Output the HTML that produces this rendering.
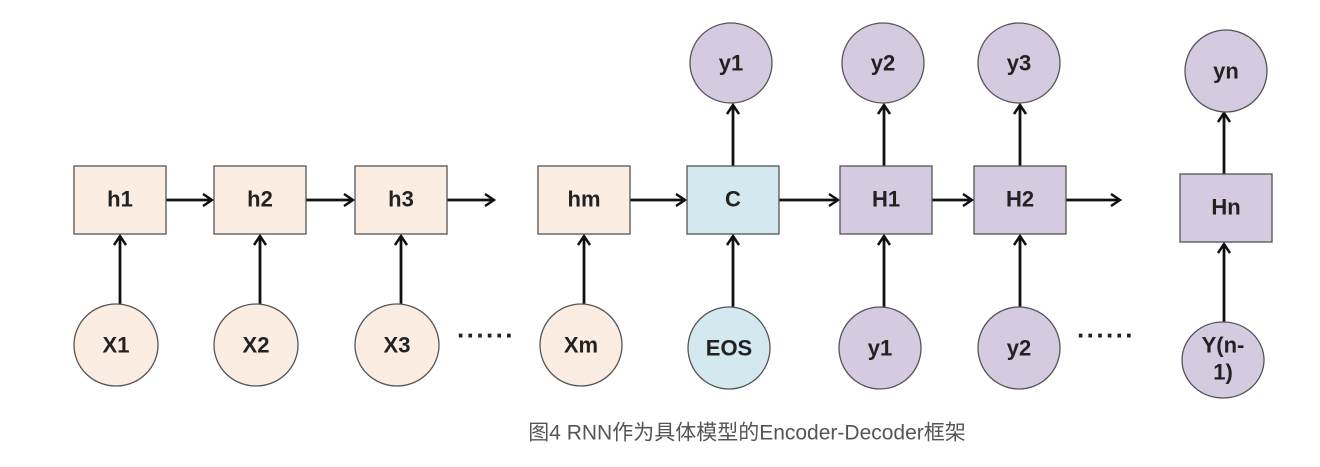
<!DOCTYPE html>
<html><head><meta charset="utf-8"><style>
html,body{margin:0;padding:0;background:#fff;}
svg{display:block;}
text{font-family:"Liberation Sans","DejaVu Sans",sans-serif;font-weight:bold;font-size:22px;fill:#222;text-anchor:middle;dominant-baseline:central;}
</style></head><body>
<svg width="1320" height="467" viewBox="0 0 1320 467" xmlns="http://www.w3.org/2000/svg">
<defs>
<marker id="a" markerWidth="12" markerHeight="14" refX="10" refY="7" orient="auto" markerUnits="userSpaceOnUse">
<path d="M1,1 L10,7 L1,13" fill="none" stroke="#111" stroke-width="2.5"/>
</marker>
</defs>
<g stroke="#111" stroke-width="2.8" fill="none" marker-end="url(#a)">
<line x1="166" y1="200" x2="212" y2="200"/>
<line x1="306" y1="200" x2="353" y2="200"/>
<line x1="447" y1="200" x2="494" y2="200"/>
<line x1="630" y1="200" x2="685" y2="200"/>
<line x1="779" y1="200" x2="838" y2="200"/>
<line x1="932" y1="200" x2="972" y2="200"/>
<line x1="1066" y1="200" x2="1120" y2="200"/>
<line x1="120" y1="304" x2="120" y2="236"/>
<line x1="260" y1="304" x2="260" y2="236"/>
<line x1="401" y1="304" x2="401" y2="236"/>
<line x1="584" y1="304" x2="584" y2="236"/>
<line x1="733" y1="307" x2="733" y2="236"/>
<line x1="884" y1="307" x2="884" y2="236"/>
<line x1="1020" y1="307" x2="1020" y2="236"/>
<line x1="1224" y1="322" x2="1224" y2="244"/>
<line x1="733" y1="167" x2="733" y2="105"/>
<line x1="884" y1="167" x2="884" y2="105"/>
<line x1="1020" y1="167" x2="1020" y2="105"/>
<line x1="1224" y1="174" x2="1224" y2="113"/>
</g>
<g stroke="#555" stroke-width="1.3">
<rect x="74" y="166" width="92" height="68" fill="#fcede2"/>
<rect x="214" y="166" width="92" height="68" fill="#fcede2"/>
<rect x="355" y="166" width="92" height="68" fill="#fcede2"/>
<rect x="538" y="166" width="92" height="68" fill="#fcede2"/>
<rect x="687" y="166" width="92" height="68" fill="#d3e9ef"/>
<rect x="840" y="166" width="92" height="68" fill="#d4cbe0"/>
<rect x="974" y="166" width="92" height="68" fill="#d4cbe0"/>
<rect x="1180" y="174" width="92" height="68" fill="#d4cbe0"/>
<ellipse cx="731" cy="63" rx="41" ry="40" fill="#d4cbe0"/>
<ellipse cx="883" cy="63" rx="41" ry="40" fill="#d4cbe0"/>
<ellipse cx="1019" cy="63" rx="41" ry="40" fill="#d4cbe0"/>
<ellipse cx="1226" cy="71" rx="41" ry="41" fill="#d4cbe0"/>
<ellipse cx="116" cy="345" rx="42" ry="41" fill="#fcede2"/>
<ellipse cx="256" cy="345" rx="42" ry="41" fill="#fcede2"/>
<ellipse cx="397" cy="345" rx="42" ry="41" fill="#fcede2"/>
<ellipse cx="581" cy="345" rx="41" ry="41" fill="#fcede2"/>
<ellipse cx="729" cy="348" rx="41" ry="41" fill="#d3e9ef"/>
<ellipse cx="880" cy="348" rx="41" ry="41" fill="#d4cbe0"/>
<ellipse cx="1019" cy="348" rx="41" ry="41" fill="#d4cbe0"/>
<ellipse cx="1223" cy="360" rx="41" ry="38" fill="#d4cbe0"/>
</g>
<text x="120" y="199">h1</text>
<text x="260" y="199">h2</text>
<text x="401" y="199">h3</text>
<text x="584" y="199">hm</text>
<text x="733" y="199">C</text>
<text x="886" y="199">H1</text>
<text x="1020" y="199">H2</text>
<text x="1226" y="207">Hn</text>
<text x="731" y="63">y1</text>
<text x="883" y="63">y2</text>
<text x="1019" y="63">y3</text>
<text x="1226" y="71">yn</text>
<text x="116" y="345">X1</text>
<text x="256" y="345">X2</text>
<text x="397" y="345">X3</text>
<text x="581" y="345">Xm</text>
<text x="729" y="348">EOS</text>
<text x="880" y="348">y1</text>
<text x="1019" y="348">y2</text>
<text x="1223" y="345">Y(n-</text>
<text x="1223" y="372">1)</text>
<text x="486" y="335" style="font-size:26px;letter-spacing:1px">······</text>
<text x="1106" y="335" style="font-size:26px;letter-spacing:1px">······</text>
<text x="747" y="433" style="font-family:'Liberation Sans','Noto Sans CJK SC',sans-serif;font-weight:normal;font-size:21px;fill:#555">图4 RNN作为具体模型的Encoder-Decoder框架</text>
</svg>
</body></html>
